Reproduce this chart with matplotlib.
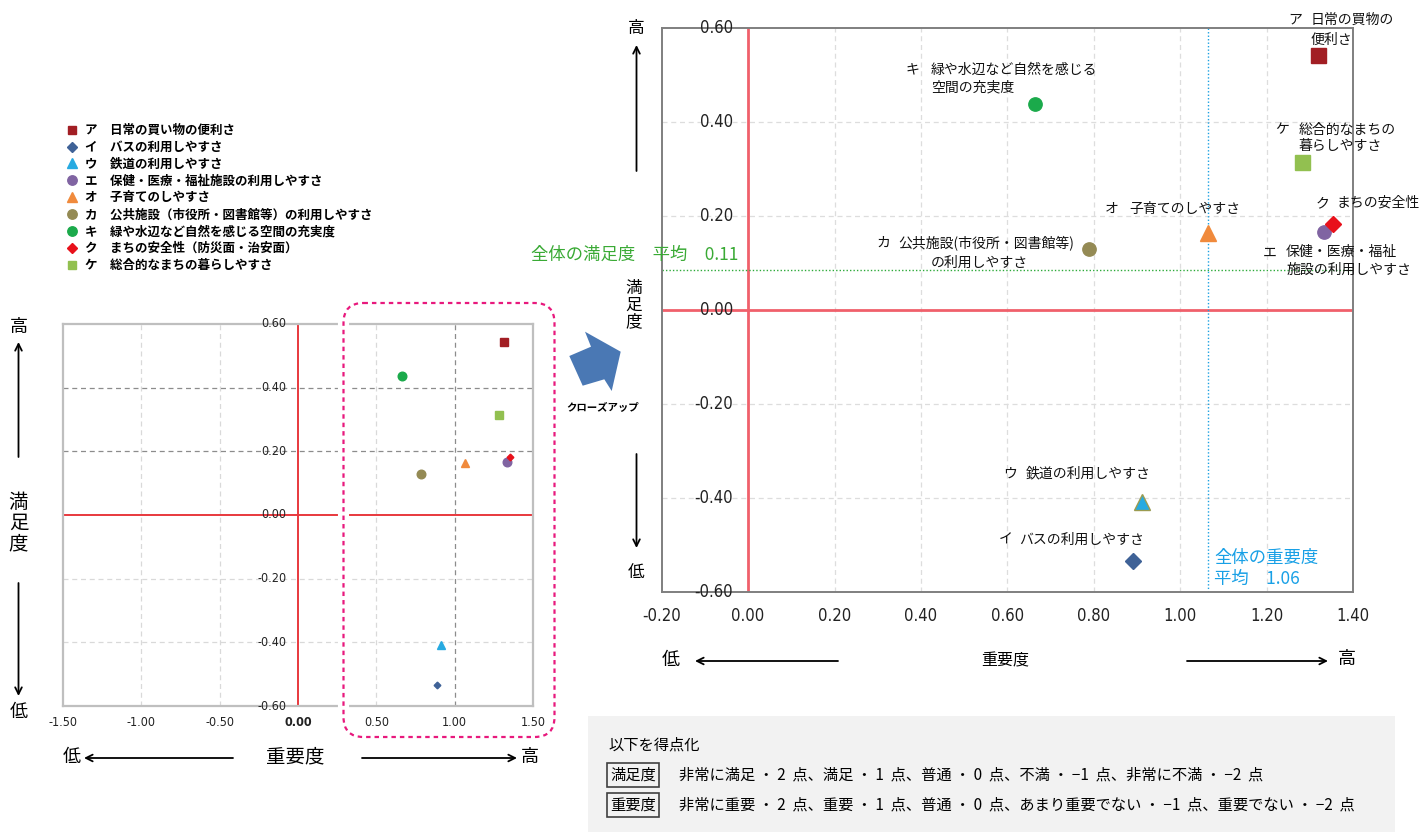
import matplotlib
matplotlib.use('Agg')
import matplotlib.pyplot as plt
from matplotlib.patches import FancyBboxPatch, Rectangle, Polygon
from matplotlib.lines import Line2D
from matplotlib import font_manager as fm
import numpy as np

plt.rcParams['font.family'] = ['Noto Sans CJK JP', 'DejaVu Sans']

_names = {f.name for f in fm.fontManager.ttflist}
if 'Liberation Sans Narrow' in _names:
    NARROW = dict(family=['Liberation Sans Narrow', 'DejaVu Sans'])
else:
    NARROW = dict(family=['DejaVu Sans'], stretch='condensed')

# ---------------- data ----------------
codes = ['ア', 'イ', 'ウ', 'エ', 'オ', 'カ', 'キ', 'ク', 'ケ']
legend_names = [
    '日常の買い物の便利さ',
    'バスの利用しやすさ',
    '鉄道の利用しやすさ',
    '保健・医療・福祉施設の利用しやすさ',
    '子育てのしやすさ',
    '公共施設（市役所・図書館等）の利用しやすさ',
    '緑や水辺など自然を感じる空間の充実度',
    'まちの安全性（防災面・治安面）',
    '総合的なまちの暮らしやすさ',
]
point_labels = [
    ['日常の買物の', '便利さ'],
    ['バスの利用しやすさ'],
    ['鉄道の利用しやすさ'],
    ['保健・医療・福祉', '施設の利用しやすさ'],
    ['子育てのしやすさ'],
    ['公共施設(市役所・図書館等)', 'の利用しやすさ'],
    ['緑や水辺など自然を感じる', '空間の充実度'],
    ['まちの安全性'],
    ['総合的なまちの', '暮らしやすさ'],
]
importance = [1.318, 0.890, 0.911, 1.333, 1.065, 0.788, 0.664, 1.354, 1.281]
satisfaction = [0.543, -0.533, -0.408, 0.165, 0.163, 0.129, 0.438, 0.183, 0.314]
avg_importance = 1.06
avg_importance_line = 1.065
avg_satisfaction = 0.11
avg_satisfaction_line = 0.085

right_xticks = [-0.2, 0.0, 0.2, 0.4, 0.6, 0.8, 1.0, 1.2, 1.4]
right_yticks = [-0.6, -0.4, -0.2, 0.0, 0.2, 0.4, 0.6]
left_xticks = [-1.5, -1.0, -0.5, 0.0, 0.5, 1.0, 1.5]
left_yticks = [-0.6, -0.4, -0.2, 0.0, 0.2, 0.4, 0.6]

score_rows = [
    ('満足度', '非常に満足 ・ 2  点、満足 ・ 1  点、普通 ・ 0  点、不満 ・ −1  点、非常に不満 ・ −2  点'),
    ('重要度', '非常に重要 ・ 2  点、重要 ・ 1  点、普通 ・ 0  点、あまり重要でない ・ −1  点、重要でない ・ −2  点'),
]

# ---------------- styles ----------------
markers = ['s', 'D', '^', 'o', '^', 'o', 'o', 'D', 's']
colors = ['#A21E24', '#3F6297', '#27AAE1', '#8064A2', '#F08A3C',
          '#948A54', '#1BAA4B', '#E8111B', '#92C050']
edgecolors = colors[:]
edgecolors[2] = '#9B9B50'
ms_right = {'s': 10.8, 'D': 7.8, '^': 11.5, 'o': 9.6}
ms_left = {'s': 6.0, 'D': 3.4, '^': 6.0, 'o': 6.2}
ms_leg = {'s': 6.4, 'D': 4.8, '^': 6.8, 'o': 6.8}

# label offsets in pixels (dx, dy with dy downwards): letter, then body lines
label_layout = [
    ((-29, -35), [(-7, -35), (-7, -15)]),
    ((-134, -21), [(-114, -21)]),
    ((-139, -28), [(-116, -28)]),
    ((-61, 20), [(-38, 20), (-38, 37)]),
    ((-103, -24), [(-79, -24)]),
    ((-212, -7), [(-190, -7), (-158, 13)]),
    ((-129, -34), [(-104, -34), (-104, -17)]),
    ((-18, -21), [(3, -21)]),
    ((-26, -33), [(-3, -33), (-3, -16)]),
]

W, H = 1421, 832
fig = plt.figure(figsize=(W / 100, H / 100), dpi=100)


def rect(x0, y0, x1, y1):
    return [x0 / W, 1 - y1 / H, (x1 - x0) / W, (y1 - y0) / H]


# ---------------- left (overview) chart ----------------
axL = fig.add_axes(rect(63, 324, 533, 706))
axL.set_xlim(-1.5, 1.5)
axL.set_ylim(-0.6, 0.6)
light = '#D9D9D9'
dark = '#8C8C8C'
for xv in left_xticks[1:-1]:
    if xv == 0.0:
        continue
    axL.axvline(xv, color=dark if xv == 1.0 else light, lw=0.9,
                ls=(0, (4, 3)), zorder=1)
for yv in left_yticks[1:-1]:
    if yv == 0.0:
        continue
    axL.axhline(yv, color=dark if yv in (0.2, 0.4) else light, lw=0.9,
                ls=(0, (4, 3)), zorder=1)
axL.axhline(0, color='#E8383D', lw=1.4, zorder=2)
axL.axvline(0, color='#E8383D', lw=1.4, zorder=2)
for i in range(len(codes)):
    axL.plot(importance[i], satisfaction[i], ls='none', marker=markers[i],
             ms=ms_left[markers[i]], mfc=colors[i], mec=colors[i], zorder=4)
axL.set_xticks(left_xticks)
axL.set_xticklabels([f'{v:.2f}' for v in left_xticks], fontsize=9, **NARROW)
for lbl, v in zip(axL.get_xticklabels(), left_xticks):
    if v == 0.0:
        lbl.set_fontweight('bold')
axL.tick_params(axis='x', length=0, pad=7, colors='#222222')
axL.set_yticks([])
for yv in left_yticks:
    axL.text(-0.075, yv, f'{yv:.2f}', ha='right', va='center', fontsize=9,
             color='#222222', zorder=3, **NARROW)
for s in axL.spines.values():
    s.set_color('#BFBFBF')
    s.set_linewidth(1.6)

# ---------------- right (close-up) chart ----------------
axR = fig.add_axes(rect(661.7, 28, 1353, 592))
axR.set_xlim(-0.2, 1.4)
axR.set_ylim(-0.6, 0.6)
for xv in right_xticks[1:-1]:
    if xv == 0.0:
        continue
    axR.axvline(xv, color='#DDDDDD', lw=0.9, ls=(0, (4, 3)), zorder=1)
for yv in right_yticks[1:-1]:
    if yv == 0.0:
        continue
    axR.axhline(yv, color='#DDDDDD', lw=0.9, ls=(0, (4, 3)), zorder=1)
axR.axhline(0, color='#F0606B', lw=2.0, zorder=2)
axR.axvline(0, color='#F0606B', lw=2.0, zorder=2)
axR.axhline(avg_satisfaction_line, color='#2EAA3A', lw=1.0, ls=(0, (1, 1.5)), zorder=2)
axR.axvline(avg_importance_line, color='#1BA1E2', lw=1.0, ls=(0, (1, 1.5)), zorder=2)

for i in range(len(codes)):
    axR.plot(importance[i], satisfaction[i], ls='none', marker=markers[i],
             ms=ms_right[markers[i]], mfc=colors[i], mec=edgecolors[i],
             mew=1.0, zorder=5)
    (ldx, ldy), lines = label_layout[i]
    axR.annotate(codes[i], xy=(importance[i], satisfaction[i]),
                 xytext=(ldx, -ldy), textcoords='offset pixels',
                 ha='left', va='center', fontsize=10, color='#111111', zorder=6)
    for txt, (bdx, bdy) in zip(point_labels[i], lines):
        axR.annotate(txt, xy=(importance[i], satisfaction[i]),
                     xytext=(bdx, -bdy), textcoords='offset pixels',
                     ha='left', va='center', fontsize=10, color='#111111',
                     zorder=6)

axR.set_xticks(right_xticks)
axR.set_xticklabels([f'{v:.2f}' for v in right_xticks], fontsize=12, **NARROW)
axR.tick_params(axis='x', length=0, pad=11, colors='#222222')
axR.set_yticks([])
for yv in right_yticks:
    axR.text(-0.035, yv, f'{yv:.2f}', ha='right', va='center', fontsize=12,
             color='#222222', zorder=3, **NARROW)
for s in axR.spines.values():
    s.set_color('#7F7F7F')
    s.set_linewidth(1.4)

# ---------------- legend ----------------
handles = [Line2D([], [], ls='none', marker=markers[i], ms=ms_leg[markers[i]],
                  mfc=colors[i], mec=colors[i]) for i in range(len(codes))]
labels = [f'{c}\u3000{n}' for c, n in zip(codes, legend_names)]
fig.legend(handles, labels, loc='upper left',
           bbox_to_anchor=(66 / W, 1 - 124 / H), frameon=False,
           prop=dict(size=9, weight='bold'), handlelength=0.95,
           handletextpad=0.55, labelspacing=0.31, borderpad=0, borderaxespad=0)

# ---------------- overlay (annotations in pixel space) ----------------
ov = fig.add_axes([0, 0, 1, 1])
ov.set_xlim(0, W)
ov.set_ylim(H, 0)
ov.axis('off')

arrow_kw = dict(arrowstyle='->', lw=1.3, color='black', mutation_scale=12,
                shrinkA=0, shrinkB=0)


def arrow(x0, y0, x1, y1):
    ov.annotate('', xy=(x1, y1), xytext=(x0, y0), arrowprops=arrow_kw)


# left chart side labels
ov.text(18.5, 327, '高', ha='center', va='center', fontsize=13)
arrow(18.5, 457, 18.5, 342)
ov.text(18.5, 523, '満\n足\n度', ha='center', va='center', fontsize=14,
        linespacing=1.0)
arrow(18.5, 583, 18.5, 696)
ov.text(18.5, 712, '低', ha='center', va='center', fontsize=13)
ov.text(72, 757, '低', ha='center', va='center', fontsize=13)
arrow(233, 758, 84, 758)
ov.text(295, 757, '重要度', ha='center', va='center', fontsize=14)
arrow(362, 758, 517, 758)
ov.text(530, 757, '高', ha='center', va='center', fontsize=13)

# right chart side labels
ov.text(636.5, 28, '高', ha='center', va='center', fontsize=12)
arrow(636.5, 171, 636.5, 45)
ov.text(634, 305, '満\n足\n度', ha='center', va='center', fontsize=12,
        linespacing=1.0)
arrow(636.5, 454, 636.5, 548)
ov.text(636.5, 572, '低', ha='center', va='center', fontsize=12)
ov.text(671, 660, '低', ha='center', va='center', fontsize=13)
arrow(838, 661, 695, 661)
ov.text(1005, 661, '重要度', ha='center', va='center', fontsize=11.5)
arrow(1187, 661, 1328, 661)
ov.text(1347, 659, '高', ha='center', va='center', fontsize=13)

# average labels
ov.text(531, 255, f'全体の満足度\u3000平均\u3000{avg_satisfaction:.2f}',
        ha='left', va='center', fontsize=12.5, color='#3AAA35')
ov.text(1214, 558, '全体の重要度', ha='left', va='center', fontsize=12.5,
        color='#18A0E6')
ov.text(1214, 579, f'平均\u3000{avg_importance:.2f}', ha='left', va='center',
        fontsize=12.5, color='#18A0E6')

# close-up dashed rounded box
for ec, lw, ls in [('white', 8, '-'), ('#E8197D', 1.6, (0, (2.0, 1.8)))]:
    ov.add_patch(FancyBboxPatch((343.5, 303), 211, 434,
                                boxstyle='round,pad=0,rounding_size=20',
                                fc='none', ec=ec, lw=lw, ls=ls, zorder=5))

# block arrow "close-up"
ov.add_patch(Polygon([(569.3, 356), (591, 346.7), (585, 331.7), (620.7, 351.7),
                      (611.7, 391), (604.3, 379.3), (582.7, 385.7)],
                     closed=True, fc='#4A78B4', ec='none', zorder=5))
ov.text(603, 408, 'クローズアップ', ha='center', va='center', fontsize=7.5,
        weight='bold', zorder=5)

# scoring note box
ov.add_patch(Rectangle((588, 716), 807, 120, fc='#F2F2F2', ec='none', zorder=1))
ov.text(608, 745, '以下を得点化', ha='left', va='center', fontsize=11, zorder=2)
for k, (head, body) in enumerate(score_rows):
    yy = 775 + 30 * k
    ov.text(610, yy, head, ha='left', va='center', fontsize=11, zorder=2,
            bbox=dict(boxstyle='square,pad=0.22', fc='none', ec='#404040', lw=1.2))
    ov.text(679, yy, body, ha='left', va='center', fontsize=11, zorder=2)

fig.savefig('out.png', dpi=100)
